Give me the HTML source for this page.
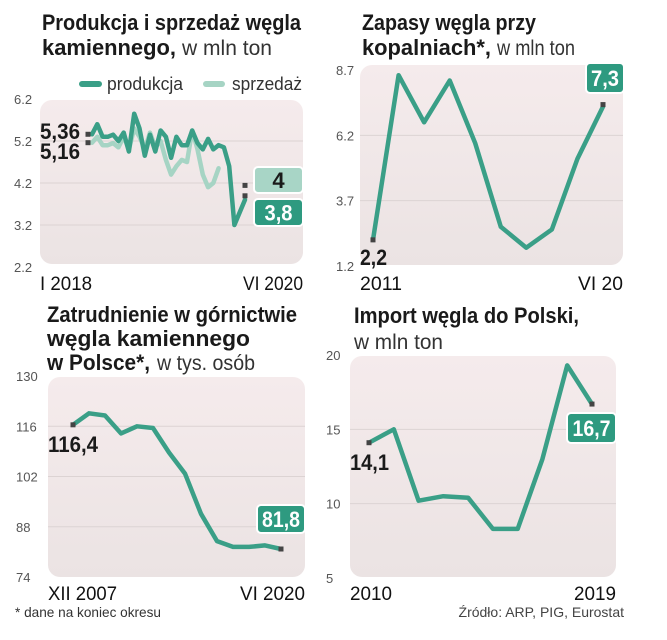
<!DOCTYPE html>
<html><head><meta charset="utf-8"><style>
html,body{margin:0;padding:0;background:#fff}
svg{display:block}
text{font-family:"Liberation Sans Narrow","Liberation Sans",sans-serif}
.t{font-weight:bold;font-size:22px;fill:#1a1a1a}
.tr{font-weight:normal;font-size:21px;fill:#333}
.yl{font-family:"Liberation Sans",sans-serif;font-size:13px;fill:#555}
.xl{font-size:19px;fill:#111}
.vl{font-weight:bold;font-size:22px;fill:#1a1a1a}
</style></head><body>
<svg id="c" width="667" height="640" viewBox="0 0 667 640" xmlns="http://www.w3.org/2000/svg">
<defs>
<linearGradient id="bg" x1="0" y1="0" x2="0" y2="1"><stop offset="0" stop-color="#f5ebec"/><stop offset="1" stop-color="#ebe3e3"/></linearGradient>
</defs>
<g>
<text class="t" x="42" y="30" textLength="259" lengthAdjust="spacingAndGlyphs">Produkcja i sprzedaż węgla</text>
<text class="t" x="42" y="55" textLength="134" lengthAdjust="spacingAndGlyphs">kamiennego,</text>
<text class="tr" x="182" y="55" textLength="90" lengthAdjust="spacingAndGlyphs">w mln ton</text>
</g>
<g>
<text class="t" x="362" y="30" textLength="174" lengthAdjust="spacingAndGlyphs">Zapasy węgla przy</text>
<text class="t" x="362" y="55" textLength="129" lengthAdjust="spacingAndGlyphs">kopalniach*,</text>
<text class="tr" x="497" y="55" textLength="78" lengthAdjust="spacingAndGlyphs">w mln ton</text>
</g>
<g>
<text class="t" x="47" y="322" textLength="250" lengthAdjust="spacingAndGlyphs">Zatrudnienie w górnictwie</text>
<text class="t" x="47" y="346" textLength="203" lengthAdjust="spacingAndGlyphs">węgla kamiennego</text>
<text class="t" x="47" y="370" textLength="103" lengthAdjust="spacingAndGlyphs">w Polsce*,</text>
<text class="tr" x="157" y="370" textLength="98" lengthAdjust="spacingAndGlyphs">w tys. osób</text>
</g>
<g>
<text class="t" x="354" y="323" textLength="225" lengthAdjust="spacingAndGlyphs">Import węgla do Polski,</text>
<text class="tr" x="354" y="349" textLength="89" lengthAdjust="spacingAndGlyphs">w mln ton</text>
</g>
<g>
<line x1="82" y1="84" x2="99" y2="84" stroke="#3a9f87" stroke-width="6" stroke-linecap="round"/>
<text x="107" y="90" font-size="18" fill="#333" textLength="76" lengthAdjust="spacingAndGlyphs">produkcja</text>
<line x1="206" y1="84" x2="222" y2="84" stroke="#a6d4c4" stroke-width="6" stroke-linecap="round"/>
<text x="232" y="90" font-size="18" fill="#333" textLength="70" lengthAdjust="spacingAndGlyphs">sprzedaż</text>
</g>
<text x="15" y="617" font-size="14" fill="#333" textLength="146" lengthAdjust="spacingAndGlyphs">* dane na koniec okresu</text>
<text x="624" y="617" font-size="14" fill="#444" text-anchor="end">Źródło: ARP, PIG, Eurostat</text>
</svg>
<script>
const prodValues=[5.36,5.6,5.3,5.3,5.35,5.2,5.4,4.95,5.85,5.5,4.85,5.35,4.95,5.45,5.3,4.8,5.3,5.1,5.1,5.45,5.15,5.0,5.25,5.0,5.1,5.05,4.6,3.2,3.5,3.8];
const salesValues=[5.16,5.3,5.1,5.1,5.15,5.05,5.3,5.0,5.5,5.3,5.0,5.4,5.05,5.2,4.75,4.4,4.6,4.75,4.7,5.45,5.0,4.4,4.1,4.2,4.55,null,null,null,null,4.0];
const prodTicks=[6.2,5.2,4.2,3.2,2.2];
const stockYears=[2011,2012,2013,2014,2015,2016,2017,2018,2019,2020];
const stockValues=[2.2,8.5,6.7,8.3,5.9,2.7,1.9,2.6,5.3,7.3];
const stockTicks=[8.7,6.2,3.7,1.2];
const empYears=[2007,2008,2009,2010,2011,2012,2013,2014,2015,2016,2017,2018,2019,2020];
const empValues=[116.4,119.6,119,114,116,115.5,108.7,102.8,91.6,84,82.4,82.4,82.8,81.8];
const empTicks=[130,116,102,88,74];
const impYears=[2010,2011,2012,2013,2014,2015,2016,2017,2018,2019];
const impValues=[14.1,15,10.2,10.5,10.4,8.3,8.3,13,19.3,16.7];
const impTicks=[20,15,10,5];

const svg=document.getElementById('c');
const NS='http://www.w3.org/2000/svg';
function mk(tag,attrs,parent){const e=document.createElementNS(NS,tag);for(const k in attrs)e.setAttribute(k,attrs[k]);(parent||svg).appendChild(e);return e;}

function panel(name,p){
  const g=mk('g',{});
  
  
  const bg=mk('rect',{x:p.bx,y:p.by,width:p.bw,height:p.bh,rx:12,fill:'url(#bg)'},g);
  
  
  const y=v=>p.y0+(v-p.ymin)/(p.ymax-p.ymin)*(p.y1-p.y0);
  p.ticks.forEach(t=>{
    const yy=y(t);
    if(t!==p.ymin&&t!==p.ymax){const gl=mk('line',{x1:p.bx,x2:p.bx+p.bw,y1:yy,y2:yy,stroke:'#dcd3d3','stroke-width':1},g);
      
      }
    const tl=mk('text',{x:p.tx,y:yy+5,class:'yl'},g);tl.textContent=String(t);
    
    
  });
  return {g,y};
}
function line(g,vals,x,y,color,name){
  let d='';let pen=false;
  vals.forEach((v,i)=>{if(v===null){pen=false;return;}d+=(pen?'L':'M')+x(i).toFixed(1)+','+y(v).toFixed(1);pen=true;});
  const pth=mk('path',{d,fill:'none',stroke:color,'stroke-width':4.5,'stroke-linejoin':'round','stroke-linecap':'round'},g);
  
  
}
function marker(g,cx,cy){const m=mk('rect',{x:cx-2.5,y:cy-2.5,width:5,height:5,fill:'#444'},g);
  
  }
function label(g,x,y,txt,w,name){const t=mk('text',{x,y,class:'vl',textLength:w,lengthAdjust:'spacingAndGlyphs'},g);t.textContent=txt;
  
  return t;}
function box(g,x,y,w,h,fill,txt,tc,tw,name){
  const r=mk('rect',{x,y,width:w,height:h,rx:4,fill,stroke:'#fff','stroke-width':2},g);
  
  
  const a={x:x+w/2,y:y+h/2+8,class:'vl','text-anchor':'middle'};
  if(tw){a.textLength=tw;a.lengthAdjust='spacingAndGlyphs';}
  const t=mk('text',a,g);t.textContent=txt;t.style.fill=tc;
  
  
}
function xlab(g,x,y,txt,anchor,w,name){const t=mk('text',{x,y,class:'xl','text-anchor':anchor,textLength:w,lengthAdjust:'spacingAndGlyphs'},g);t.textContent=txt;
  
  }

// Panel 1
{const P={bx:40,by:100,bw:263,bh:164,y0:267,y1:99,ymin:2.2,ymax:6.2,ticks:prodTicks,tx:14};
 const {g,y}=panel('production-sales-chart',P);
 const x=i=>92+i*(245-92)/(prodValues.length-1);
 line(g,salesValues,x,y,'#a6d4c4','sales-line');
 line(g,prodValues,x,y,'#3a9f87','production-line');
 marker(g,x(0)-4,y(prodValues[0]));marker(g,x(0)-4,y(salesValues[0]));
 const li=prodValues.length-1;
 marker(g,x(li),y(salesValues[li])-6);marker(g,x(li),y(prodValues[li])-4);
 label(g,40,139,'5,36',40,'production-start-label');
 label(g,40,159,'5,16',40,'sales-start-label');
 box(g,254,167,49,26,'#a8d5c6','4','#1a1a1a',0,'sales-end-label');
 box(g,254,199,49,27,'#2e9a80','3,8','#fff',28,'production-end-label');
 xlab(g,40,290,'I 2018','start',52,'x-label-start');xlab(g,303,290,'VI 2020','end',60,'x-label-end');}
// Panel 2
{const P={bx:360,by:65,bw:263,bh:200,y0:266,y1:70,ymin:1.2,ymax:8.7,ticks:stockTicks,tx:336};
 const {g,y}=panel('stocks-chart',P);
 const x=i=>373+i*(603-373)/(stockYears.length-1);
 line(g,stockValues,x,y,'#3a9f87','stocks-line');
 marker(g,x(0),y(stockValues[0]));marker(g,x(stockValues.length-1),y(stockValues[stockValues.length-1])-2);
 label(g,360,265,'2,2',27,'stocks-start-label');
 box(g,586,63,38,30,'#2e9a80','7,3','#fff',28,'stocks-end-label');
 xlab(g,360,290,'2011','start',42,'x-label-start');xlab(g,623,290,'VI 20','end',45,'x-label-end');}
// Panel 3
{const P={bx:48,by:377,bw:257,bh:200,y0:577,y1:376,ymin:74,ymax:130,ticks:empTicks,tx:16};
 const {g,y}=panel('employment-chart',P);
 const x=i=>73+i*(281-73)/(empYears.length-1);
 line(g,empValues,x,y,'#3a9f87','employment-line');
 marker(g,x(0),y(empValues[0]));marker(g,x(empValues.length-1),y(empValues[empValues.length-1]));
 label(g,48,452,'116,4',50,'employment-start-label');
 box(g,257,505,48,28,'#2e9a80','81,8','#fff',38,'employment-end-label');
 xlab(g,48,600,'XII 2007','start',69,'x-label-start');xlab(g,305,600,'VI 2020','end',65,'x-label-end');}
// Panel 4
{const P={bx:350,by:356,bw:266,bh:221,y0:578,y1:355,ymin:5,ymax:20,ticks:impTicks,tx:326};
 const {g,y}=panel('import-chart',P);
 const x=i=>369+i*(592-369)/(impYears.length-1);
 line(g,impValues,x,y,'#3a9f87','import-line');
 marker(g,x(0),y(impValues[0]));marker(g,x(impValues.length-1),y(impValues[impValues.length-1]));
 label(g,350,470,'14,1',39,'import-start-label');
 box(g,567,413,49,30,'#2e9a80','16,7','#fff',38,'import-end-label');
 xlab(g,350,600,'2010','start',42,'x-label-start');xlab(g,616,600,'2019','end',42,'x-label-end');}
</script>
</body></html>
